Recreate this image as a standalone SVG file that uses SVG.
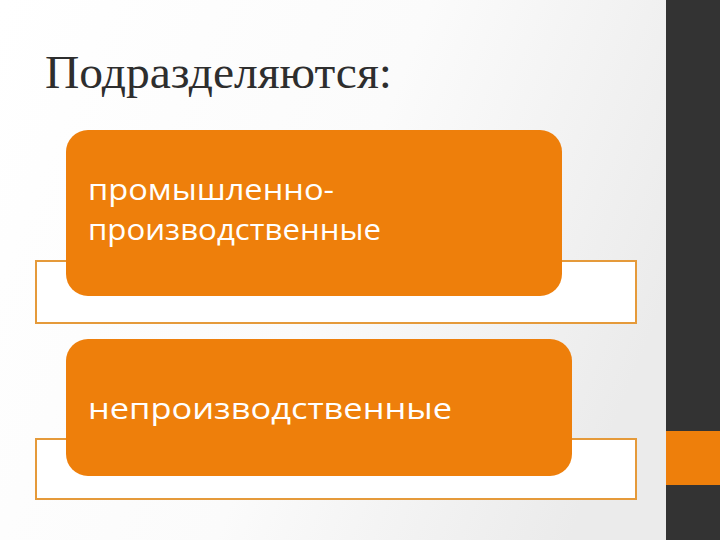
<svg xmlns="http://www.w3.org/2000/svg" width="720" height="540" viewBox="0 0 720 540">
<defs>
<linearGradient id="bg" x1="0" y1="0" x2="1" y2="0.3">
<stop offset="0" stop-color="#ffffff"/>
<stop offset="0.55" stop-color="#fbfbfb"/>
<stop offset="1" stop-color="#ebebeb"/>
</linearGradient>
<style>
.frame{fill:#ffffff;stroke:#e59a3a;stroke-width:2}
.box{fill:#ee7f0b}
.lbl{font-family:"Open Sans","Noto Sans",sans-serif;font-size:29px;fill:#ffffff}
</style>
</defs>
<rect x="0" y="0" width="720" height="540" fill="url(#bg)"/>
<rect x="666" y="0" width="54" height="540" fill="#333333"/>
<rect x="666" y="431" width="54" height="54" fill="#ee7f0b"/>
<text x="45" y="88" font-family="'Liberation Serif',serif" font-size="47" fill="#2e2e2e" textLength="347" lengthAdjust="spacingAndGlyphs">Подразделяются:</text>
<g id="connectors"></g>
<g id="node1">
<rect class="frame" x="36" y="261" width="600" height="62"/>
<rect class="box" x="66" y="130" width="496" height="166" rx="22"/>
<text class="lbl" x="88" y="200" textLength="246" lengthAdjust="spacingAndGlyphs">промышленно-</text>
<text class="lbl" x="88" y="240" textLength="293" lengthAdjust="spacingAndGlyphs">производственные</text>
</g>
<g id="node2">
<rect class="frame" x="36" y="439" width="600" height="60"/>
<rect class="box" x="66" y="339" width="506" height="137" rx="22"/>
<text class="lbl" x="88" y="419" textLength="364" lengthAdjust="spacingAndGlyphs">непроизводственные</text>
</g>
</svg>
